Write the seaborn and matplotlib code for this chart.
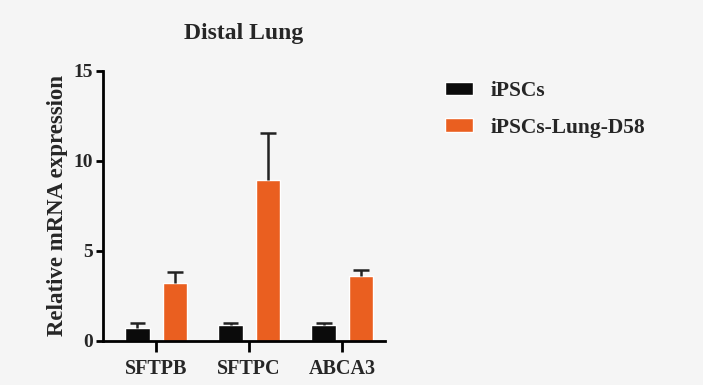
import numpy as np
import pandas as pd
import seaborn as sns
import matplotlib.pyplot as plt

# values
genes = ['SFTPB', 'SFTPC', 'ABCA3']
groups = ['iPSCs', 'iPSCs-Lung-D58']
ipsc_mean = [0.72, 0.89, 0.87]
ipsc_err = [0.30, 0.12, 0.13]
lung_mean = [3.22, 8.94, 3.60]
lung_err = [0.63, 2.60, 0.35]
colors = ['#0b0b0b', '#ea5f20']

df = pd.DataFrame({
    'gene': genes * 2,
    'group': [groups[0]] * 3 + [groups[1]] * 3,
    'value': ipsc_mean + lung_mean,
})
errs = {groups[0]: ipsc_err, groups[1]: lung_err}

sns.set_style('white')
plt.rcParams['font.family'] = ['Liberation Serif', 'DejaVu Serif']
plt.rcParams['font.weight'] = 'bold'

fig = plt.figure(figsize=(7.03, 3.85), dpi=100, facecolor='#f5f5f5')
ax = fig.add_axes([0.1465, 0.1143, 0.4012, 0.7013])
ax.set_facecolor('#f5f5f5')

sns.barplot(data=df, x='gene', y='value', hue='group', hue_order=groups,
            palette=colors, width=0.8, gap=0.35, errorbar=None,
            saturation=1, ax=ax)

# upper-only error bars (stem + cap)
for cont, g in zip(ax.containers, groups):
    xs = np.array([p.get_x() + p.get_width() / 2 for p in cont.patches])
    ys = np.array([p.get_height() for p in cont.patches])
    tops = ys + np.array(errs[g])
    ax.vlines(xs, ys, tops, color='#222222', linewidth=1.8, zorder=1)
    ax.hlines(tops, xs - 0.085, xs + 0.085, color='#222222', linewidth=1.8, zorder=3)

ax.set_ylim(0, 15)
ax.set_xlim(-0.57, 2.46)
ax.set_yticks([0, 5, 10, 15])
ax.set_xlabel('')
ax.set_ylabel('Relative mRNA expression', fontsize=16.5, fontweight='bold', labelpad=4)
ax.set_title('Distal Lung', fontsize=17, fontweight='bold', pad=23)

sns.despine(ax=ax)
for s in ['left', 'bottom']:
    ax.spines[s].set_linewidth(2)
    ax.spines[s].set_color('black')
ax.tick_params(axis='both', direction='out', width=2, color='black',
               left=True, bottom=True)
ax.tick_params(axis='y', labelsize=14, length=5, pad=2)
ax.tick_params(axis='x', labelsize=14.5, length=8, pad=5)
for lab in ax.get_xticklabels() + ax.get_yticklabels():
    lab.set_fontweight('bold')

ax.legend(loc='upper left', bbox_to_anchor=(1.213, 0.963), frameon=False,
          borderpad=0, borderaxespad=0,
          handlelength=1.3, handleheight=0.56,
          labelspacing=0.77, handletextpad=0.8,
          prop={'weight': 'bold', 'size': 15.5})

fig.savefig('out.png', dpi=100, facecolor=fig.get_facecolor())
